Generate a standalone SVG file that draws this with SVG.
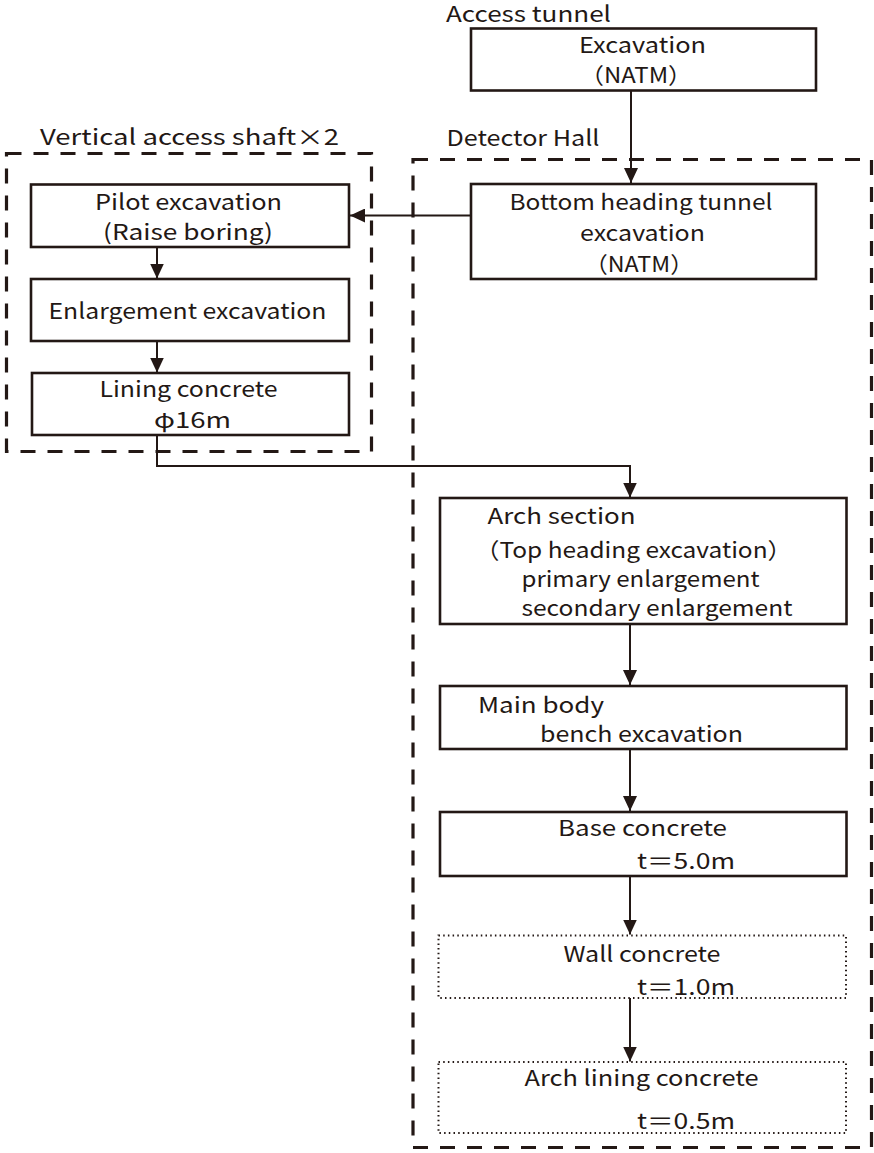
<svg xmlns="http://www.w3.org/2000/svg" width="874" height="1153" viewBox="0 0 874 1153">
<style>
text{font-family:"Noto Sans CJK JP","Liberation Sans",sans-serif;font-size:22px;fill:#231815}
.box{fill:#fff;stroke:#231815;stroke-width:2.6}
.dot{fill:#fff;stroke:#231815;stroke-width:2;stroke-dasharray:1.5 3.2}
.grp{fill:none;stroke:#231815;stroke-width:3.2;stroke-dasharray:15 12}
.ln{fill:none;stroke:#231815;stroke-width:2}
</style>
<defs>
<marker id="ah" markerUnits="userSpaceOnUse" markerWidth="16" markerHeight="14" refX="15" refY="7" orient="auto">
<path d="M0,0 L15,7 L0,14 Z" fill="#231815"/>
</marker>
</defs>

<g id="group-vertical-shaft">
<rect class="grp" x="6.5" y="153.5" width="365" height="298"/>
<text x="40" y="145" textLength="299" lengthAdjust="spacingAndGlyphs">Vertical access shaft×2</text>
</g>
<g id="group-detector-hall">
<rect class="grp" x="413" y="159.5" width="458.5" height="988"/>
<text x="446.5" y="146" textLength="153" lengthAdjust="spacingAndGlyphs">Detector Hall</text>
</g>
<g id="label-access-tunnel">
<text x="446" y="21.5" textLength="165" lengthAdjust="spacingAndGlyphs">Access tunnel</text>
</g>

<g id="connectors">
<line class="ln" x1="631" y1="90.5" x2="631" y2="183" marker-end="url(#ah)"/>
<line class="ln" x1="471" y1="215.5" x2="350" y2="215.5" marker-end="url(#ah)"/>
<line class="ln" x1="157" y1="247" x2="157" y2="278.5" marker-end="url(#ah)"/>
<line class="ln" x1="157" y1="341" x2="157" y2="372.5" marker-end="url(#ah)"/>
<polyline class="ln" points="157,435 157,466 630,466 630,497.5" marker-end="url(#ah)"/>
<line class="ln" x1="630" y1="624" x2="630" y2="685" marker-end="url(#ah)"/>
<line class="ln" x1="630" y1="749" x2="630" y2="811" marker-end="url(#ah)"/>
<line class="ln" x1="630" y1="876" x2="630" y2="934.5" marker-end="url(#ah)"/>
<line class="ln" x1="630" y1="998" x2="630" y2="1061.5" marker-end="url(#ah)"/>
</g>

<g id="node-excavation">
<rect class="box" x="471" y="28.5" width="345" height="62"/>
<text x="579" y="52.5" textLength="127" lengthAdjust="spacingAndGlyphs">Excavation</text>
<text x="580" y="83" textLength="112" lengthAdjust="spacingAndGlyphs">（NATM）</text>
</g>
<g id="node-bottom-heading">
<rect class="box" x="471" y="184" width="345" height="95"/>
<text x="509.5" y="210" textLength="263" lengthAdjust="spacingAndGlyphs">Bottom heading tunnel</text>
<text x="580" y="240.5" textLength="125" lengthAdjust="spacingAndGlyphs">excavation</text>
<text x="584.5" y="271.5" textLength="109" lengthAdjust="spacingAndGlyphs">（NATM）</text>
</g>
<g id="node-pilot">
<rect class="box" x="31" y="184.5" width="318" height="62.5"/>
<text x="95" y="209.5" textLength="187" lengthAdjust="spacingAndGlyphs">Pilot excavation</text>
<text x="103" y="239.5" textLength="170" lengthAdjust="spacingAndGlyphs">(Raise boring)</text>
</g>
<g id="node-enlargement">
<rect class="box" x="31" y="279" width="318" height="62"/>
<text x="48.5" y="319" textLength="278" lengthAdjust="spacingAndGlyphs">Enlargement excavation</text>
</g>
<g id="node-lining">
<rect class="box" x="32" y="373" width="317" height="62"/>
<text x="99.5" y="397" textLength="178" lengthAdjust="spacingAndGlyphs">Lining concrete</text>
<text x="154" y="428" textLength="77" lengthAdjust="spacingAndGlyphs">φ16m</text>
</g>
<g id="node-arch-section">
<rect class="box" x="440" y="498" width="406.5" height="126"/>
<text x="487.5" y="524" textLength="148" lengthAdjust="spacingAndGlyphs">Arch section</text>
<text x="475" y="558" textLength="317" lengthAdjust="spacingAndGlyphs">（Top heading excavation）</text>
<text x="521.5" y="586.5" textLength="238" lengthAdjust="spacingAndGlyphs">primary enlargement</text>
<text x="521.5" y="615.5" textLength="271" lengthAdjust="spacingAndGlyphs">secondary enlargement</text>
</g>
<g id="node-main-body">
<rect class="box" x="440" y="686" width="406.5" height="63"/>
<text x="478" y="712.5" textLength="126" lengthAdjust="spacingAndGlyphs">Main body</text>
<text x="540" y="741.5" textLength="203" lengthAdjust="spacingAndGlyphs">bench excavation</text>
</g>
<g id="node-base-concrete">
<rect class="box" x="440" y="812" width="406.5" height="64"/>
<text x="558" y="835.5" textLength="169" lengthAdjust="spacingAndGlyphs">Base concrete</text>
<text x="637" y="869" textLength="98" lengthAdjust="spacingAndGlyphs">t＝5.0m</text>
</g>
<g id="node-wall-concrete">
<rect class="dot" x="438.5" y="935.5" width="407.5" height="62.5"/>
<text x="563.5" y="962" textLength="157" lengthAdjust="spacingAndGlyphs">Wall concrete</text>
<text x="637" y="994.5" textLength="98" lengthAdjust="spacingAndGlyphs">t＝1.0m</text>
</g>
<g id="node-arch-lining">
<rect class="dot" x="438.5" y="1062" width="407.5" height="71"/>
<text x="524.5" y="1085.5" textLength="234" lengthAdjust="spacingAndGlyphs">Arch lining concrete</text>
<text x="637" y="1129" textLength="98" lengthAdjust="spacingAndGlyphs">t＝0.5m</text>
</g>
</svg>
